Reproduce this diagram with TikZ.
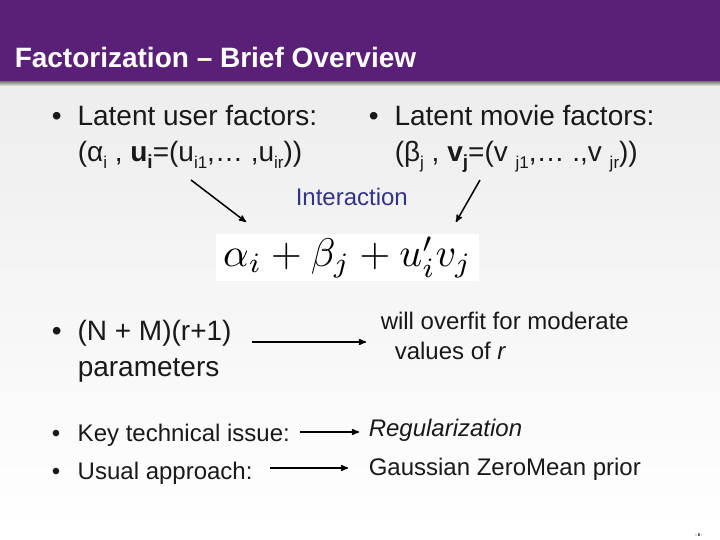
\documentclass[tikz,border=0pt]{standalone}
\usepackage{fontspec}
\setmainfont{Liberation Sans}
\usetikzlibrary{arrows}
\definecolor{titlepurple}{HTML}{5A2077}
\definecolor{interblue}{HTML}{333388}
\newcommand{\lowr}[1]{\raisebox{-0.22em}{\fontsize{17}{17}\selectfont #1}}
\newcommand{\lowb}[1]{\raisebox{-0.22em}{\fontsize{19}{19}\selectfont\bfseries #1}}

\begin{document}
\begin{tikzpicture}[x=1pt,y=-1pt,->,>=stealth',shorten >=0pt,line width=1.5pt,
  big node/.style={inner sep=0pt,anchor=base west,align=left,text=black!90,font=\fontsize{28}{36}\selectfont},
  mid node/.style={inner sep=0pt,anchor=base west,align=left,text=black!90,font=\fontsize{24}{30}\selectfont}]
  \useasboundingbox (0,0) rectangle (720,540);
  \shade[draw=none,top color=black!7,bottom color=white,-] (0,84) rectangle (720,530);
  \shade[draw=none,top color=black!55,bottom color=black!7,-] (0,81) rectangle (720,86);
  \fill[titlepurple,-] (0,0) rectangle (720,81);
  \node[inner sep=0pt,anchor=base west,text=white,font=\fontsize{28}{30}\selectfont\bfseries] (title) at (14,67.5) {Factorization -- Brief Overview};
  \node[big node] (1) at (51,162) {\textbullet\hspace{16pt}Latent user factors:\\\hspace*{26pt}(α\lowr{i} , \textbf{u}\lowb{i}=(u\lowr{i1},… ,u\lowr{ir}))};
  \node[big node] (2) at (368,162) {\textbullet\hspace{16pt}Latent movie factors:\\\hspace*{26pt}(β\lowr{j} , \textbf{v}\lowb{j}=(v \lowr{j1},… .,v \lowr{jr}))};
  \node[inner sep=0pt,anchor=base west,text=interblue,font=\fontsize{24}{28}\selectfont] (3) at (295,206) {Interaction};
  \node[fill=white,minimum width=263pt,minimum height=47pt,inner sep=0pt] (4) at (347.5,257.5) {\scalebox{4}{$\alpha_i+\beta_j+u'_iv_j$}};
  \node[big node] (5) at (51,376) {\textbullet\hspace{16pt}(N + M)(r+1)\\\hspace*{26pt}parameters};
  \node[mid node] (6) at (380,359) {will overfit for moderate\\\hspace*{14pt}values of \textit{r}};
  \node[mid node] (7) at (51,441) {\textbullet\hspace{17.6pt}Key technical issue:};
  \node[mid node] (8) at (368,436) {\textit{Regularization}};
  \node[mid node] (9) at (51,479) {\textbullet\hspace{17.6pt}Usual approach:};
  \node[mid node] (10) at (368,475) {Gaussian ZeroMean prior};
  \node[inner sep=0pt,text=black,font=\fontsize{4}{5}\selectfont\bfseries] (11) at (699,535) {- 8 -};
  \coordinate (a1) at (191,180);
  \coordinate (a2) at (246,222);
  \coordinate (b1) at (480,180);
  \coordinate (b2) at (456,222);
  \coordinate (c1) at (252,342);
  \coordinate (c2) at (366,342);
  \coordinate (d1) at (300,432);
  \coordinate (d2) at (359,432);
  \coordinate (e1) at (270,468);
  \coordinate (e2) at (348,468);
  \path
    (a1) edge (a2)
    (b1) edge (b2)
    (c1) edge (c2)
    (d1) edge (d2)
    (e1) edge (e2);
\end{tikzpicture}
\end{document}
